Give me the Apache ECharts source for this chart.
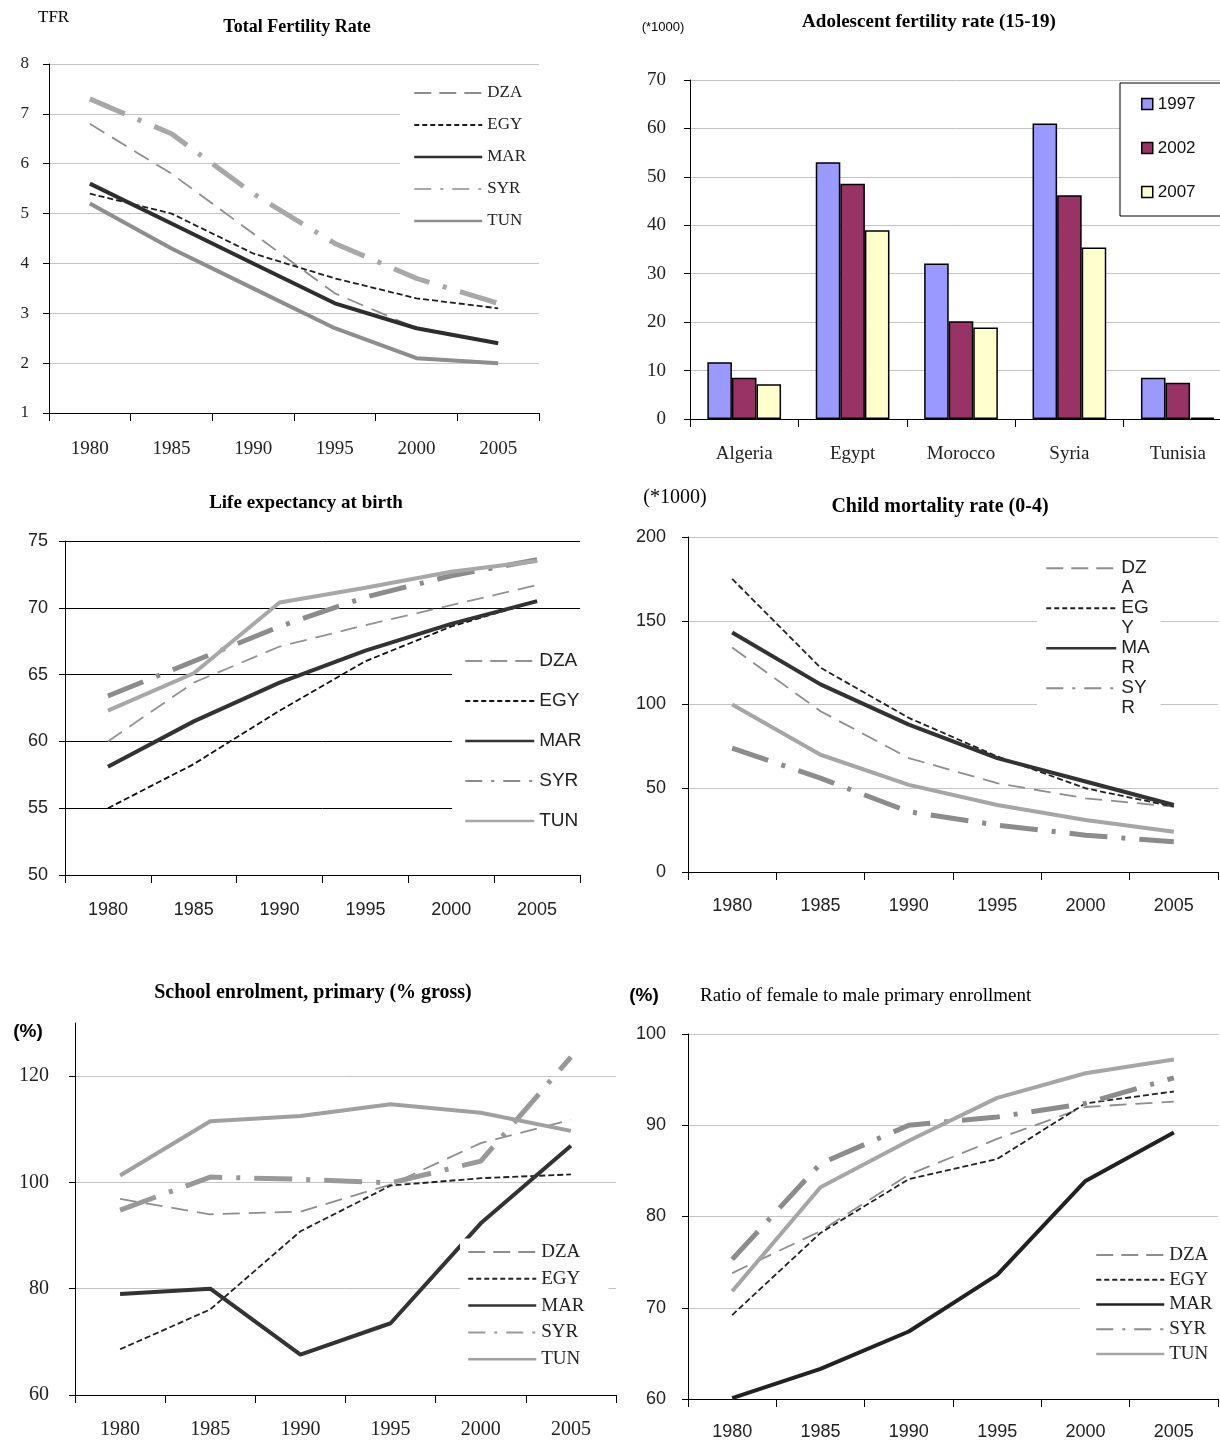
<!DOCTYPE html>
<html><head><meta charset="utf-8">
<script src="https://cdn.jsdelivr.net/npm/echarts@6/dist/echarts.min.js"></script>
<style>html,body{margin:0;padding:0;background:#fff}#c{width:1220px;height:1445px}</style>
</head><body><div id="c"></div>
<script>
// ---------- DATA ----------
const years = ['1980','1985','1990','1995','2000','2005'];
const countries = ['DZA','EGY','MAR','SYR','TUN'];

// Total Fertility Rate
const tfrDZA = [6.8, 5.8, 4.6, 3.4, 2.7, 2.4];
const tfrEGY = [5.4, 5.0, 4.2, 3.7, 3.3, 3.1];
const tfrMAR = [5.6, 4.8, 4.0, 3.2, 2.7, 2.4];
const tfrSYR = [7.3, 6.6, 5.4, 4.4, 3.7, 3.2];
const tfrTUN = [5.2, 4.3, 3.5, 2.7, 2.1, 2.0];

// Adolescent fertility rate (15-19)
const adolCountries = ['Algeria','Egypt','Morocco','Syria','Tunisia'];
const adolYears = ['1997','2002','2007'];
const adol1997 = [11.7, 53.0, 32.1, 61.0, 8.5];
const adol2002 = [8.5, 48.6, 20.2, 46.2, 7.5];
const adol2007 = [7.2, 39.0, 18.9, 35.4, 0.3];

// Life expectancy at birth
const leDZA = [60.0, 64.4, 67.1, 68.7, 70.2, 71.7];
const leEGY = [55.0, 58.3, 62.3, 66.0, 68.6, 70.5];
const leMAR = [58.1, 61.5, 64.4, 66.8, 68.8, 70.5];
const leSYR = [63.4, 66.0, 68.6, 70.8, 72.4, 73.6];
const leTUN = [62.3, 65.1, 70.4, 71.5, 72.7, 73.5];

// Child mortality rate (0-4)
const cmDZA = [134, 96, 68, 53, 44, 39];
const cmEGY = [175, 122, 92, 69, 50, 39];
const cmMAR = [143, 112, 88, 68, 54, 40];
const cmSYR = [74, 56, 36, 28, 22, 18];
const cmTUN = [100, 70, 52, 40, 31, 24];

// School enrolment, primary (% gross)
const seDZA = [96.9, 94.0, 94.5, 99.6, 107.4, 111.8];
const seEGY = [68.6, 76.1, 90.8, 99.4, 100.8, 101.5];
const seMAR = [79.0, 80.0, 67.6, 73.5, 92.3, 106.9];
const seSYR = [94.8, 101.0, 100.6, 99.9, 104.0, 123.6];
const seTUN = [101.3, 111.5, 112.5, 114.7, 113.1, 109.7];

// Ratio of female to male primary enrollment
const rfDZA = [73.8, 78.4, 84.6, 88.5, 92.0, 92.6];
const rfEGY = [69.2, 78.2, 84.1, 86.3, 92.4, 93.7];
const rfMAR = [60.1, 63.3, 67.4, 73.6, 83.9, 89.2];
const rfSYR = [75.3, 85.8, 90.0, 90.9, 92.4, 95.2];
const rfTUN = [71.8, 83.2, 88.3, 93.0, 95.7, 97.2];

// ---------- STYLE ----------
const SERIF = 'Liberation Serif';
const SANS = 'Liberation Sans';
const GG = '#c4c4c4';
const W = {DZA:1.8, EGY:1.8, MAR:4, SYR:5, TUN:4};
const T = {DZA:[17,9], EGY:[6,3], MAR:'solid', SYR:[38,14,4,14], TUN:'solid'};
const LW = {DZA:2, EGY:2, MAR:2.5, SYR:2, TUN:2.5};
const LT = {DZA:[17,8], EGY:[5,3], MAR:'solid', SYR:[17,9,3,9], TUN:'solid'};

const colTFR = ['#8e8e8e','#1f1f1f','#2e2e2e','#a8a8a8','#8e8e8e'];
const colLE  = ['#939393','#111111','#333333','#8c8c8c','#a8a8a8'];
const colCM  = ['#8e8e8e','#222222','#333333','#8c8c8c','#a6a6a6'];
const colSE  = ['#8e8e8e','#222222','#333333','#999999','#a0a0a0'];
const colRF  = ['#8e8e8e','#222222','#222222','#8c8c8c','#a6a6a6'];

function lineSeries(idx, arrs, cols) {
  return countries.map((c, i) => ({
    type:'line', name:c, xAxisIndex:idx, yAxisIndex:idx, data:arrs[i],
    symbol:'none', smooth:false,
    lineStyle:{color:cols[i], width:W[c], type:T[c], cap:'butt'},
    itemStyle:{color:cols[i]}
  }));
}
function legendData(names, cols) {
  return names.map((n, i) => ({
    name:n,
    lineStyle:{color:cols[i], width:LW[n], type:LT[n]},
    itemStyle:{opacity:0}
  }));
}
function xAx(gi, data, ff, fs, margin) {
  return {type:'category', gridIndex:gi, data:data, boundaryGap:true,
    axisLine:{show:true, onZero:false, lineStyle:{color:'#000', width:1}},
    axisTick:{show:true, length:8, interval:0, alignWithLabel:false, lineStyle:{color:'#000'}},
    axisLabel:{fontFamily:ff, fontSize:fs, color:'#222', margin:margin, interval:0},
    splitLine:{show:false}};
}
function yAx(gi, min, max, interval, ff, fs, margin, gridColor, extraLabel, extraSplit) {
  return {type:'value', gridIndex:gi, min:min, max:max, interval:interval,
    axisLine:{show:true, lineStyle:{color:'#000', width:1}},
    axisTick:{show:true, length:6, lineStyle:{color:'#000'}},
    axisLabel:Object.assign({fontFamily:ff, fontSize:fs, color:'#222', margin:margin}, extraLabel||{}),
    splitLine:Object.assign({show:true, lineStyle:{color:gridColor, width:1}}, extraSplit||{})};
}
function txt(x, y, text, ff, fs, fw, align) {
  return {type:'text', x:x, y:y, z:10, style:{text:text, fontFamily:ff, fontSize:fs,
    fontWeight:fw||'normal', fill:'#000', align:align||'center', verticalAlign:'middle'}};
}

const legendBase = {orient:'vertical', backgroundColor:'#fff', selectedMode:false, borderWidth:0};

const option = {
  animation:false,
  backgroundColor:'#fff',
  grid:[
    {left:49, top:64, width:490, height:349, outerBoundsMode:'none', containLabel:false},
    {left:690, top:80, width:542, height:339, outerBoundsMode:'none', containLabel:false},
    {left:65, top:541, width:515, height:334, outerBoundsMode:'none', containLabel:false},
    {left:688, top:537, width:530, height:335, outerBoundsMode:'none', containLabel:false},
    {left:75, top:1023, width:541, height:372, outerBoundsMode:'none', containLabel:false},
    {left:688, top:1034, width:530, height:365, outerBoundsMode:'none', containLabel:false}
  ],
  xAxis:[
    xAx(0, years, SERIF, 19, 27),
    xAx(1, adolCountries, SERIF, 19, 26),
    xAx(2, years, SANS, 18, 26),
    xAx(3, years, SANS, 18, 25),
    xAx(4, years, SERIF, 20, 25),
    xAx(5, years, SANS, 18, 24)
  ],
  yAxis:[
    yAx(0, 1, 8, 1, SERIF, 17, 20, GG),
    yAx(1, 0, 70, 10, SERIF, 19, 24, GG),
    yAx(2, 50, 75, 5, SANS, 18, 17, '#000'),
    yAx(3, 0, 200, 50, SANS, 18, 22, GG),
    yAx(4, 60, 130, 20, SERIF, 20, 26, GG, {showMaxLabel:false}, {showMaxLine:false}),
    yAx(5, 60, 100, 10, SANS, 18, 22, GG)
  ],
  legend:[
    Object.assign({}, legendBase, {left:400, top:79, padding:[5,16,5,13], itemWidth:68, itemHeight:14, itemGap:14,
      textStyle:{fontFamily:SERIF, fontSize:17, lineHeight:18, color:'#222'},
      data:legendData(countries, colTFR)}),
    Object.assign({}, legendBase, {left:1120, top:83, padding:[11,60,14,21], itemWidth:11, itemHeight:11, itemGap:24,
      borderColor:'#000', borderWidth:1, icon:'rect',
      itemStyle:{borderColor:'#000', borderWidth:1.5},
      textStyle:{fontFamily:SANS, fontSize:17, lineHeight:20, color:'#111'},
      data:adolYears}),
    Object.assign({}, legendBase, {left:452, top:639, padding:[12,30,12,12], itemWidth:69, itemHeight:14, itemGap:20,
      textStyle:{fontFamily:SANS, fontSize:19, lineHeight:20, color:'#222'},
      data:legendData(countries, colLE)}),
    Object.assign({}, legendBase, {left:1037, top:539, padding:[0,11,0,8], itemWidth:70, itemHeight:14, itemGap:-18.5,
      textStyle:{fontFamily:SANS, fontSize:19, lineHeight:19.5, color:'#222'},
      formatter:function(n){ return ' \n' + n.slice(0,2) + '\n' + n.slice(2); },
      data:legendData(countries.slice(0,4), colCM)}),
    Object.assign({}, legendBase, {left:460, top:1238.5, padding:[4,24,4,7], itemWidth:68, itemHeight:14, itemGap:7.8,
      textStyle:{fontFamily:SERIF, fontSize:19, lineHeight:19, color:'#222'},
      data:legendData(countries, colSE)}),
    Object.assign({}, legendBase, {left:1080, top:1241.5, padding:[4,10,4,15], itemWidth:68, itemHeight:14, itemGap:5.75,
      textStyle:{fontFamily:SERIF, fontSize:19, lineHeight:19, color:'#222'},
      data:legendData(countries, colRF)})
  ],
  series:[].concat(
    lineSeries(0, [tfrDZA, tfrEGY, tfrMAR, tfrSYR, tfrTUN], colTFR),
    [
      {type:'bar', name:'1997', xAxisIndex:1, yAxisIndex:1, data:adol1997, barGap:'0%', barCategoryGap:'32%',
        itemStyle:{color:'#9999ff', borderColor:'#000', borderWidth:1.5}},
      {type:'bar', name:'2002', xAxisIndex:1, yAxisIndex:1, data:adol2002, barGap:'0%', barCategoryGap:'32%',
        itemStyle:{color:'#993366', borderColor:'#000', borderWidth:1.5}},
      {type:'bar', name:'2007', xAxisIndex:1, yAxisIndex:1, data:adol2007, barGap:'0%', barCategoryGap:'32%',
        itemStyle:{color:'#ffffcc', borderColor:'#000', borderWidth:1.5}}
    ],
    lineSeries(2, [leDZA, leEGY, leMAR, leSYR, leTUN], colLE),
    lineSeries(3, [cmDZA, cmEGY, cmMAR, cmSYR, cmTUN], colCM),
    lineSeries(4, [seDZA, seEGY, seMAR, seSYR, seTUN], colSE),
    lineSeries(5, [rfDZA, rfEGY, rfMAR, rfSYR, rfTUN], colRF)
  ),
  graphic:{elements:[
    txt(38, 18, 'TFR', SERIF, 17, 'normal', 'left'),
    txt(297, 27, 'Total Fertility Rate', SERIF, 18, 'bold'),
    txt(663, 27, '(*1000)', SANS, 13, 'normal'),
    txt(929, 22, 'Adolescent fertility rate (15-19)', SERIF, 19, 'bold'),
    txt(306, 503, 'Life expectancy at birth', SERIF, 19, 'bold'),
    txt(675, 498, '(*1000)', SERIF, 20, 'normal'),
    txt(940, 507, 'Child mortality rate (0-4)', SERIF, 20, 'bold'),
    txt(313, 993, 'School enrolment, primary (% gross)', SERIF, 20, 'bold'),
    txt(28, 1032, '(%)', SANS, 19, 'bold'),
    txt(644, 996, '(%)', SANS, 19, 'bold'),
    txt(700, 996, 'Ratio of female to male primary enrollment', SERIF, 19, 'normal', 'left')
  ]}
};

const chart = echarts.init(document.getElementById('c'), null, {renderer:'canvas'});
chart.setOption(option);
</script>
</body></html>
